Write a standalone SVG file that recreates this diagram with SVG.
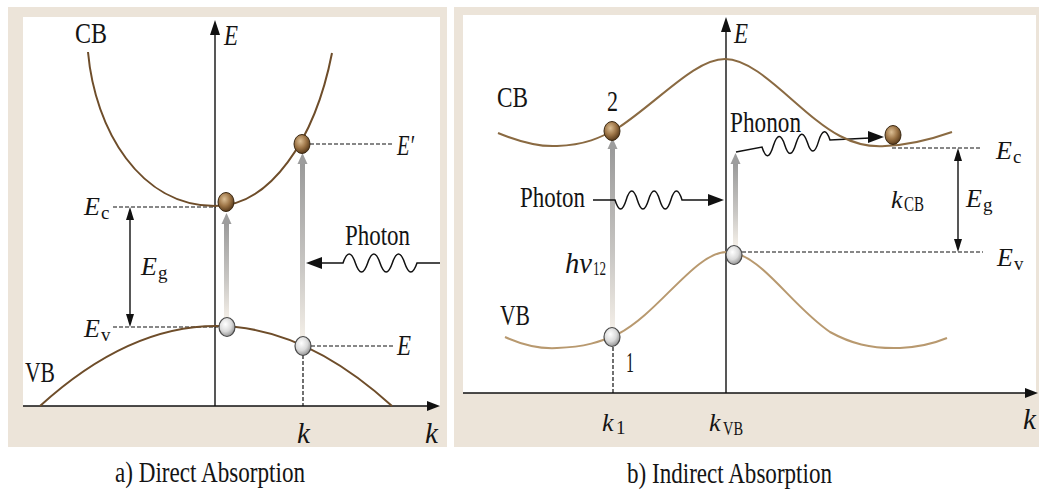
<svg xmlns="http://www.w3.org/2000/svg" width="1039" height="494" viewBox="0 0 1039 494">
<style>
.t{font-family:"Liberation Serif","Times New Roman",serif;font-size:29px;fill:#141414}
.i{font-style:italic}
.e{font-style:italic;font-size:26px}
.s{font-size:19px}
.ax{stroke:#111;stroke-width:1.4;fill:none}
.dash{stroke:#111;stroke-width:1.2;stroke-dasharray:4 2;fill:none}
.wave{stroke:#111;stroke-width:1.5;fill:none}
.head{fill:#111}
.ghead{fill:#9d9d9d}
.cbL{stroke:#6e4d2a;stroke-width:2;fill:none}
.cbR{stroke:#8a6a42;stroke-width:2;fill:none}
.vbR{stroke:#b8996f;stroke-width:2;fill:none}
.el{fill:url(#gEl);stroke:#3a2812;stroke-width:1}
.ho{fill:url(#gHo);stroke:#4a4a4a;stroke-width:1.2}
.frame{fill:#ece4d9}
</style>
<defs>
<radialGradient id="gEl" cx="40%" cy="35%" r="65%">
<stop offset="0" stop-color="#dcbf95"/>
<stop offset="0.55" stop-color="#9e7648"/>
<stop offset="1" stop-color="#5a3c1c"/>
</radialGradient>
<radialGradient id="gHo" cx="40%" cy="35%" r="70%">
<stop offset="0" stop-color="#ffffff"/>
<stop offset="0.55" stop-color="#dadada"/>
<stop offset="1" stop-color="#8a8a8a"/>
</radialGradient>
<linearGradient id="gAr" x1="0" y1="0" x2="0" y2="1">
<stop offset="0" stop-color="#9a9a9a"/>
<stop offset="0.6" stop-color="#c9c7c4"/>
<stop offset="1" stop-color="#f3eee7"/>
</linearGradient>
</defs>
<rect width="1039" height="494" fill="#fff"/>

<g id="panel-a">
<rect class="frame" x="8" y="7" width="439" height="440"/>
<rect x="23" y="17" width="417" height="389" fill="#fff"/>
</g>
<g id="panel-b">
<rect class="frame" x="454" y="7" width="585" height="440"/>
<rect x="463" y="15" width="573" height="378" fill="#fff"/>
</g>

<g id="connectors">
<line class="ax" x1="215" y1="30" x2="215" y2="406"/>
<polygon class="head" points="215,20 210,35 220,35"/>
<line class="ax" x1="23" y1="406" x2="430" y2="406"/>
<polygon class="head" points="440,406 427,401 427,411"/>
<line class="dash" x1="113" y1="207" x2="216" y2="207"/>
<line class="dash" x1="113" y1="327" x2="218" y2="327"/>
<line class="dash" x1="310" y1="144" x2="393" y2="144"/>
<line class="dash" x1="311" y1="346" x2="393" y2="346"/>
<line class="dash" x1="303" y1="355" x2="303" y2="406"/>
<line class="ax" x1="130" y1="216" x2="130" y2="318"/>
<polygon class="head" points="130,207 126,220 134,220"/>
<polygon class="head" points="130,327 126,314 134,314"/>
<rect x="224" y="222" width="5" height="96" fill="url(#gAr)"/>
<polygon class="ghead" points="226.5,213 221.5,224 231.5,224"/>
<rect x="300" y="163" width="5" height="174" fill="url(#gAr)"/>
<polygon class="ghead" points="302.5,153 297.5,164 307.5,164"/>
<path class="wave" d="M440,263 H417 q-6.17,18 -12.33,0 t-12.33,0 t-12.33,0 t-12.33,0 t-12.33,0 t-12.33,0 H320"/>
<polygon class="head" points="306,263 322,257 322,269"/>

<line class="ax" x1="726" y1="28" x2="726" y2="393"/>
<polygon class="head" points="726,17 721,32 731,32"/>
<line class="ax" x1="463" y1="393" x2="1026" y2="393"/>
<polygon class="head" points="1038,393 1025,388 1025,398"/>
<line class="dash" x1="892" y1="148" x2="982" y2="148"/>
<line class="dash" x1="742" y1="252" x2="983" y2="252"/>
<line class="dash" x1="613" y1="347" x2="613" y2="393"/>
<line class="ax" x1="958" y1="158" x2="958" y2="242"/>
<polygon class="head" points="958,148 954,161 962,161"/>
<polygon class="head" points="958,252 954,239 962,239"/>
<rect x="610" y="148" width="5" height="180" fill="url(#gAr)"/>
<polygon class="ghead" points="612.5,138 607.5,149 617.5,149"/>
<rect x="733" y="163" width="5" height="82" fill="url(#gAr)"/>
<polygon class="ghead" points="735.5,153 730.5,164 740.5,164"/>
<path class="wave" d="M593,200 H615 q5.58,18 11.17,0 t11.17,0 t11.17,0 t11.17,0 t11.17,0 t11.17,0 H711"/>
<polygon class="head" points="724,200 708,194 708,206"/>
<path class="wave" d="M736,152 L762,147 q5.67,18 11.33,-1.17 q5.67,-18 11.33,-1.17 q5.67,18 11.33,-1.17 q5.67,-18 11.33,-1.17 q5.67,18 11.33,-1.17 q5.67,-18 11.33,-1.17 L870,138"/>
<polygon class="head" points="884,137 868,131 868,143"/>
</g>

<g id="bands-a">
<path id="cb-a" class="cbL" d="M88,52 C95,130 140,206 215,206 C270,206 315,140 332,53"/>
<path id="vb-a" class="cbL" d="M40,406 Q216,246 392,406"/>
</g>
<g id="bands-b">
<path id="cb-b" class="cbR" d="M498,133 C520,142 540,147 557,146 C585,145 600,138 618,128 C660,100 695,59 725,59 C760,59 800,115 840,136 C855,144 870,147 885,146 C910,145 935,138 952,132"/>
<path id="vb-b" class="vbR" d="M505,337 C525,346 540,349 557,348 C585,347 600,342 618,334 C660,312 695,252 727,252 C760,252 790,305 830,332 C850,343 870,349 900,348 C920,347 935,343 947,338"/>
</g>

<g id="electrons">
<ellipse class="el" cx="226" cy="202" rx="8" ry="9.5"/>
<ellipse class="el" cx="302" cy="144" rx="8" ry="9.5"/>
<ellipse class="el" cx="612" cy="131" rx="8" ry="9.5"/>
<ellipse class="el" cx="893" cy="135" rx="8" ry="9.5"/>
</g>
<g id="holes">
<ellipse class="ho" cx="227" cy="327" rx="8" ry="9.5"/>
<ellipse class="ho" cx="303" cy="346" rx="8" ry="9.5"/>
<ellipse class="ho" cx="612" cy="337" rx="8" ry="9.5"/>
<ellipse class="ho" cx="734" cy="255" rx="8" ry="9.5"/>
</g>

<g id="labels-a">
<text class="t" x="75" y="43" textLength="32" lengthAdjust="spacingAndGlyphs">CB</text>
<text class="t i" x="224" y="45" textLength="14" lengthAdjust="spacingAndGlyphs">E</text>
<text class="t i" x="397" y="155" textLength="17" lengthAdjust="spacingAndGlyphs">E′</text>
<text class="t"><tspan class="e" x="84" y="215">E</tspan><tspan class="s" x="101" y="219">c</tspan></text>
<text class="t"><tspan class="e" x="84" y="337">E</tspan><tspan class="s" x="101" y="341">v</tspan></text>
<text class="t"><tspan class="e" x="141" y="275">E</tspan><tspan class="s" x="158" y="279">g</tspan></text>
<text class="t i" x="397" y="355" textLength="14" lengthAdjust="spacingAndGlyphs">E</text>
<text class="t" x="25" y="382" textLength="30" lengthAdjust="spacingAndGlyphs">VB</text>
<text class="t i" x="297" y="443">k</text>
<text class="t i" x="425" y="443">k</text>
<text class="t" x="345" y="245" textLength="65" lengthAdjust="spacingAndGlyphs">Photon</text>
<text class="t" x="115" y="482" textLength="190" lengthAdjust="spacingAndGlyphs">a) Direct Absorption</text>
</g>

<g id="labels-b">
<text class="t i" x="734" y="43" textLength="14" lengthAdjust="spacingAndGlyphs">E</text>
<text class="t" x="497" y="107" textLength="31" lengthAdjust="spacingAndGlyphs">CB</text>
<text class="t" x="607" y="111" textLength="11" lengthAdjust="spacingAndGlyphs">2</text>
<text class="t" x="730" y="132" textLength="71" lengthAdjust="spacingAndGlyphs">Phonon</text>
<text class="t" x="520" y="207" textLength="65" lengthAdjust="spacingAndGlyphs">Photon</text>
<text class="t"><tspan class="e" x="996" y="159">E</tspan><tspan class="s" x="1013" y="163">c</tspan></text>
<text class="t"><tspan class="e" x="891" y="208">k</tspan><tspan x="904" y="211" font-size="20" textLength="20" lengthAdjust="spacingAndGlyphs">CB</tspan></text>
<text class="t"><tspan class="e" x="966" y="207">E</tspan><tspan class="s" x="983" y="211">g</tspan></text>
<text class="t"><tspan class="e" x="997" y="266">E</tspan><tspan class="s" x="1014" y="270">v</tspan></text>
<text class="t"><tspan class="i" x="565" y="273" textLength="27" lengthAdjust="spacingAndGlyphs">hv</tspan><tspan x="593" y="275" font-size="19" textLength="13" lengthAdjust="spacingAndGlyphs">12</tspan></text>
<text class="t" x="500" y="325" textLength="30" lengthAdjust="spacingAndGlyphs">VB</text>
<text class="t" x="626" y="372" textLength="8" lengthAdjust="spacingAndGlyphs">1</text>
<text class="t"><tspan class="e" x="602" y="431">k</tspan><tspan class="s" x="616" y="434">1</tspan></text>
<text class="t"><tspan class="e" x="709" y="431">k</tspan><tspan x="723" y="435" font-size="19" textLength="20" lengthAdjust="spacingAndGlyphs">VB</tspan></text>
<text class="t i" x="1023" y="429">k</text>
<text class="t" x="627" y="483" textLength="205" lengthAdjust="spacingAndGlyphs">b) Indirect Absorption</text>
</g>
</svg>
